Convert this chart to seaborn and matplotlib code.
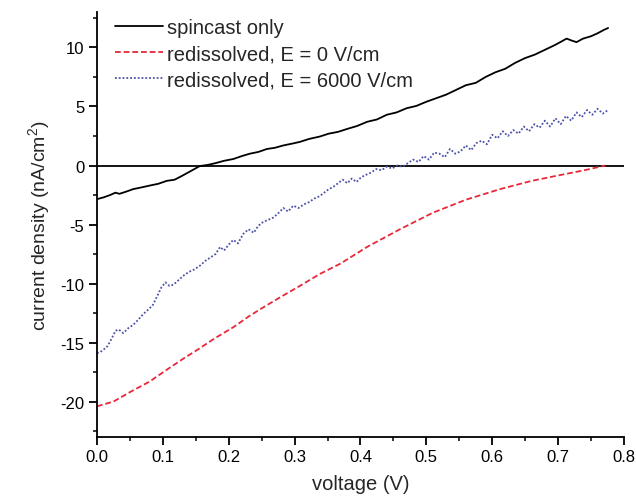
import matplotlib
matplotlib.use("Agg")
import matplotlib.pyplot as plt
import seaborn as sns
from matplotlib.ticker import MultipleLocator

# ---- data ----
V_spin = [0.000,0.010,0.020,0.028,0.034,0.045,0.055,0.068,0.080,0.093,0.106,0.118,0.130,0.143,0.156,0.168,0.180,0.193,0.207,0.220,0.232,0.245,0.258,0.270,0.283,0.296,0.308,0.322,0.338,0.352,0.366,0.380,0.395,0.410,0.425,0.440,0.455,0.470,0.485,0.500,0.515,0.530,0.545,0.560,0.575,0.590,0.605,0.620,0.635,0.650,0.665,0.680,0.695,0.705,0.713,0.720,0.728,0.738,0.750,0.760,0.770,0.776]
J_spin = [-2.85,-2.7,-2.5,-2.3,-2.4,-2.2,-2.0,-1.85,-1.7,-1.55,-1.3,-1.2,-0.85,-0.45,-0.05,0.05,0.2,0.4,0.55,0.8,1.0,1.15,1.4,1.5,1.7,1.85,2.0,2.25,2.45,2.7,2.85,3.1,3.35,3.7,3.9,4.3,4.5,4.85,5.05,5.4,5.7,6.0,6.4,6.8,7.0,7.5,7.9,8.2,8.7,9.1,9.4,9.8,10.2,10.5,10.75,10.6,10.45,10.75,10.95,11.2,11.5,11.65]

V_red = [0.000,0.025,0.050,0.080,0.106,0.130,0.150,0.180,0.207,0.230,0.250,0.280,0.308,0.338,0.370,0.410,0.460,0.510,0.560,0.612,0.660,0.713,0.740,0.772]
J_red = [-20.4,-20.0,-19.2,-18.3,-17.3,-16.4,-15.7,-14.6,-13.7,-12.8,-12.1,-11.1,-10.2,-9.2,-8.3,-6.9,-5.4,-4.0,-2.9,-2.0,-1.3,-0.7,-0.4,0.0]

V_blue = [0.000,0.005,0.010,0.016,0.022,0.028,0.033,0.040,0.047,0.055,0.062,0.070,0.078,0.085,0.092,0.098,0.104,0.110,0.116,0.124,0.132,0.140,0.148,0.156,0.164,0.172,0.180,0.187,0.193,0.200,0.207,0.214,0.222,0.230,0.238,0.245,0.252,0.260,0.268,0.276,0.283,0.290,0.298,0.306,0.314,0.322,0.330,0.338,0.345,0.352,0.359,0.366,0.373,0.380,0.387,0.394,0.401,0.408,0.416,0.424,0.432,0.440,0.448,0.456,0.464,0.472,0.480,0.488,0.496,0.504,0.512,0.520,0.528,0.536,0.544,0.552,0.560,0.568,0.576,0.584,0.592,0.600,0.608,0.616,0.624,0.632,0.640,0.648,0.656,0.664,0.672,0.680,0.688,0.696,0.704,0.712,0.720,0.728,0.736,0.744,0.752,0.760,0.768,0.776]
J_blue = [-15.9,-15.8,-15.6,-15.3,-14.7,-14.0,-13.9,-14.2,-13.8,-13.5,-13.1,-12.6,-12.2,-11.8,-11.0,-10.3,-9.9,-10.2,-10.1,-9.7,-9.3,-9.0,-8.8,-8.5,-8.1,-7.8,-7.5,-6.9,-7.2,-6.7,-6.3,-6.6,-5.8,-5.4,-5.7,-5.1,-4.8,-4.6,-4.4,-4.0,-3.6,-3.9,-3.4,-3.6,-3.3,-3.1,-2.8,-2.6,-2.3,-2.0,-1.8,-1.5,-1.2,-1.5,-1.1,-1.4,-1.0,-0.8,-0.6,-0.3,-0.4,-0.1,-0.25,0.0,-0.1,0.2,0.5,0.3,0.8,0.5,1.1,1.0,0.7,1.4,1.0,1.2,1.7,1.3,1.9,2.1,1.8,2.6,2.3,2.9,2.5,3.0,2.7,3.3,2.9,3.5,3.2,3.8,3.3,4.0,3.5,4.2,3.8,4.5,4.1,4.7,4.3,4.8,4.4,4.7]

labels = ["spincast only", "redissolved, E = 0 V/cm", "redissolved, E = 6000 V/cm"]
x_ticks = [0.0, 0.1, 0.2, 0.3, 0.4, 0.5, 0.6, 0.7, 0.8]
y_ticks = [-20, -15, -10, -5, 0, 5, 10]

sns.set_theme(style="ticks")
plt.rcParams['font.family'] = ['Liberation Sans', 'DejaVu Sans']
plt.rcParams['mathtext.fontset'] = 'custom'
plt.rcParams['mathtext.rm'] = 'Liberation Sans'
plt.rcParams['mathtext.it'] = 'Liberation Sans'
plt.rcParams['axes.unicode_minus'] = False

fig = plt.figure(figsize=(6.36, 5.02), dpi=100)
ax = fig.add_axes([0.1525, 0.1275, 0.8285, 0.8465])

sns.lineplot(x=V_spin, y=J_spin, ax=ax, color="black", lw=1.3, sort=False,
             estimator=None, label=labels[0])
sns.lineplot(x=V_red, y=J_red, ax=ax, color="#e8283a", lw=1.3, sort=False,
             estimator=None, label=labels[1], linestyle=(0, (3.2, 1.6)))
sns.lineplot(x=V_blue, y=J_blue, ax=ax, color="#4a52a8", lw=1.3, sort=False,
             estimator=None, label=labels[2], linestyle=(0, (1, 1.1)))

ax.axhline(0, color="black", lw=1.3, zorder=1)

ax.set_xlim(0, 0.8)
ax.set_ylim(-23, 13)
ax.set_xticks(x_ticks)
ax.set_xticklabels([f"{t:.1f}" for t in x_ticks])
ax.set_yticks(y_ticks)
ax.set_yticklabels([str(t) for t in y_ticks])
ax.xaxis.set_minor_locator(MultipleLocator(0.05))
ax.yaxis.set_minor_locator(MultipleLocator(2.5))
ax.tick_params(which="major", direction="out", length=5.5, width=1.3, labelsize=12,
               colors="black", pad=3.5)
ax.tick_params(which="minor", direction="out", length=3, width=1.3)
for s in ["top", "right"]:
    ax.spines[s].set_visible(False)
for s in ["left", "bottom"]:
    ax.spines[s].set_linewidth(1.3)
    ax.spines[s].set_color("black")

ax.set_xlabel("voltage (V)", fontsize=14.5, labelpad=7)
ax.set_ylabel("current density (nA/cm$^2$)", fontsize=14, labelpad=6)

leg = ax.legend(loc="upper left", frameon=False, fontsize=14.5, handlelength=2.4,
                handletextpad=0.2, labelspacing=0.35, borderaxespad=0.0,
                bbox_to_anchor=(0.018, 1.005))

fig.savefig("out.png", dpi=100)
